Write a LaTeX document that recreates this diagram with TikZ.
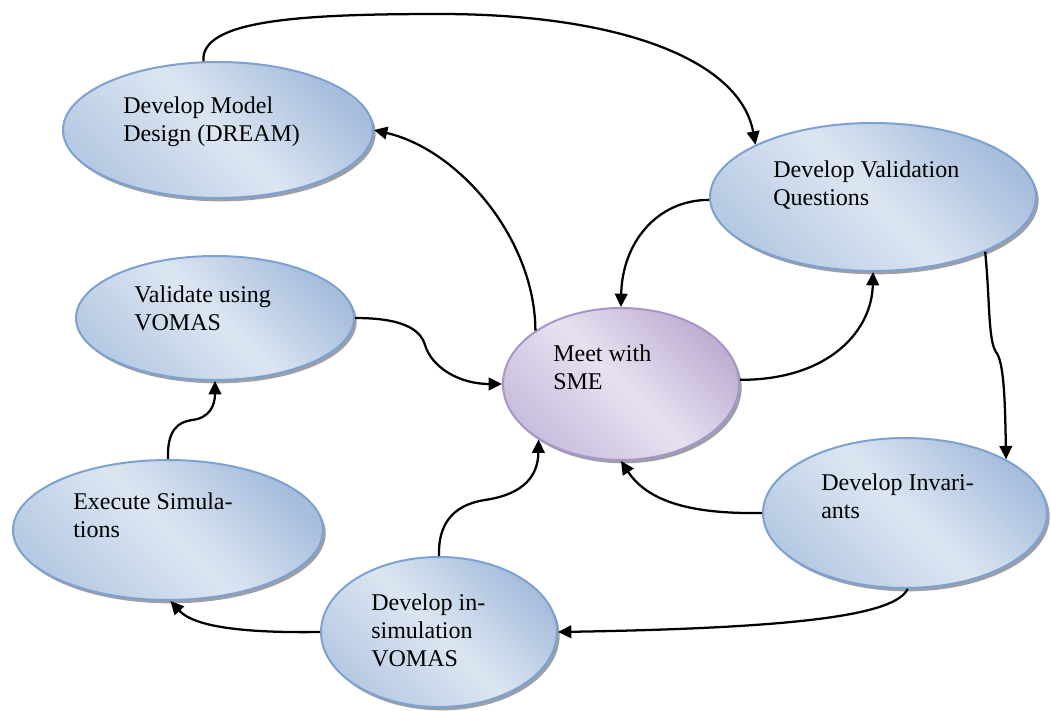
\documentclass[tikz,border=0pt]{standalone}
\usepackage{fontspec}
\setmainfont{Liberation Serif}
\usetikzlibrary{shapes.geometric,arrows.meta,shadows}
\definecolor{bline}{HTML}{7EA1CF}
\definecolor{bdark}{HTML}{A6BDDC}
\definecolor{blight}{HTML}{DCE6F2}
\definecolor{bmid}{HTML}{B7CAE3}
\definecolor{pline}{HTML}{A796C6}
\definecolor{pdark}{HTML}{BEAED3}
\definecolor{plight}{HTML}{E7E1F0}
\definecolor{pmid}{HTML}{C9BDDD}
\definecolor{shadowc}{HTML}{8A8F99}
\tikzset{
 bubble/.style={ellipse, draw=bline, line width=1.5pt, inner sep=0pt,
   top color=bdark, bottom color=bmid, middle color=blight, shading angle=-45,
   general shadow={shadow xshift=2pt, shadow yshift=-2.5pt, fill=shadowc, opacity=0.85}},
 pbubble/.style={bubble, draw=pline, top color=pdark, bottom color=pmid, middle color=plight, shading angle=-45},
 lbl/.style={anchor=base west, inner sep=0pt, font=\fontsize{18}{21}\selectfont},
 conn/.style={line width=1.7pt, -{Triangle[length=10pt,width=9.5pt]}}
}
\begin{document}
\begin{tikzpicture}[x=0.75pt,y=-0.75pt]
\useasboundingbox (0,0) rectangle (1051,711);
% nodes
\node[bubble, minimum width=232.5pt, minimum height=102pt] (model) at (218,130) {};
\node[bubble, minimum width=244.5pt, minimum height=111pt] (quest) at (873,197) {};
\node[pbubble, minimum width=177pt, minimum height=114pt] (meet) at (621,384) {};
\node[bubble, minimum width=208.5pt, minimum height=93pt] (val) at (215,318) {};
\node[bubble, minimum width=232.5pt, minimum height=105pt] (exec) at (168,530) {};
\node[bubble, minimum width=213pt, minimum height=112.5pt] (inv) at (905,513) {};
\node[bubble, minimum width=177pt, minimum height=112.5pt] (isim) at (439,632) {};
% labels
\node[lbl] (tmodel) at (123,113) {\begin{tabular}[t]{@{}l@{}}Develop Model\\Design (DREAM)\end{tabular}};
\node[lbl] (tquest) at (773,177) {\begin{tabular}[t]{@{}l@{}}Develop Validation\\Questions\end{tabular}};
\node[lbl] (tmeet) at (553,361) {\begin{tabular}[t]{@{}l@{}}Meet with\\SME\end{tabular}};
\node[lbl] (tval) at (134,302) {\begin{tabular}[t]{@{}l@{}}Validate using\\VOMAS\end{tabular}};
\node[lbl] (texec) at (73,509) {\begin{tabular}[t]{@{}l@{}}Execute Simula-\\tions\end{tabular}};
\node[lbl] (tinv) at (821,490) {\begin{tabular}[t]{@{}l@{}}Develop Invari-\\ants\end{tabular}};
\node[lbl] (tisim) at (371,610) {\begin{tabular}[t]{@{}l@{}}Develop in-\\simulation\\VOMAS\end{tabular}};
% connectors
\draw[conn] (model.102) .. controls (200,20) and (300,14) .. (440,14) .. controls (620,14) and (740,60) .. (quest.156);
\draw[conn] (meet.148) .. controls (535,240) and (460,150) .. (model.0);
\draw[conn] (quest.181) .. controls (655,200) and (622,245) .. (meet.90);
\draw[conn] (meet.2) .. controls (830,380) and (872,330) .. (quest.-90);
\draw[conn] (quest.-26) .. controls (990,300) and (988,340) .. (996,352) .. controls (1004,362) and (1005,400) .. (inv.28);
\draw[conn] (inv.180) .. controls (700,514) and (650,505) .. (meet.-90);
\draw[conn] (inv.-88) .. controls (895,615) and (800,628) .. (isim.0);
\draw[conn] (isim.180) .. controls (250,633) and (195,628) .. (exec.-88);
\draw[conn] (exec.90) .. controls (167,430) and (178,422) .. (192,420) .. controls (210,418) and (215,405) .. (val.-90);
\draw[conn] (isim.90) .. controls (438,525) and (452,505) .. (485,500) .. controls (525,494) and (538,475) .. (meet.-146);
\draw[conn] (val.0) .. controls (400,318) and (420,328) .. (425,345) .. controls (432,368) and (460,384) .. (meet.180);
\end{tikzpicture}
\end{document}
